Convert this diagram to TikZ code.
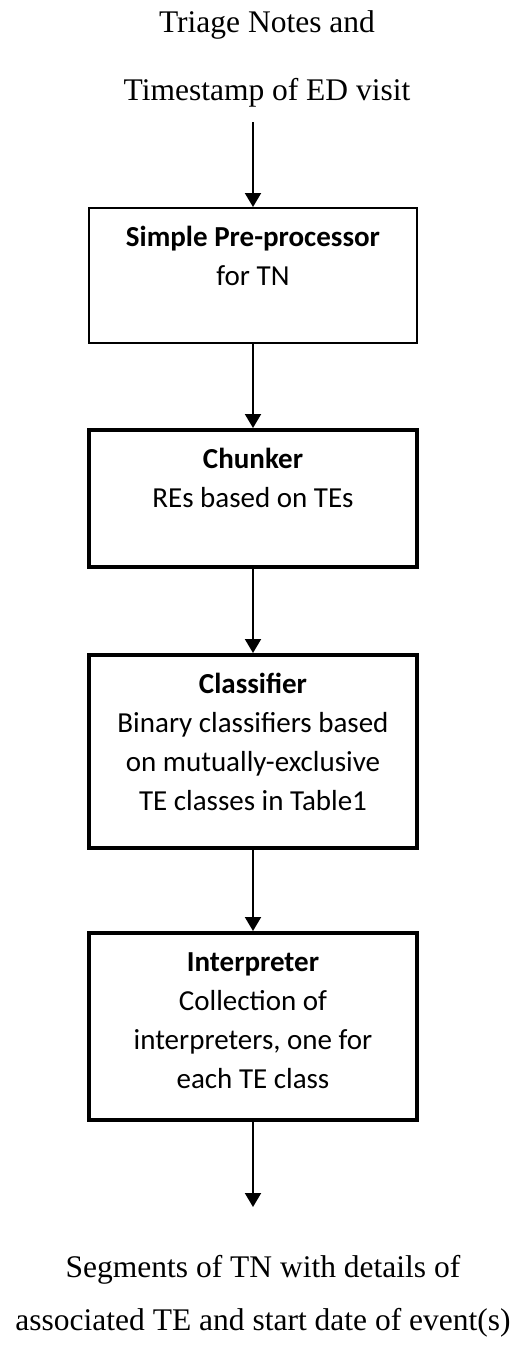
\documentclass[tikz,border=0pt]{standalone}
\usepackage{fontspec}
\setmainfont{Liberation Serif}
\newfontfamily\boxfont{Carlito}
\usetikzlibrary{arrows.meta}

% box contents: bold title, then plain lines, fixed height
\newcommand{\stagetext}[3]{\parbox[c][#3][t]{328pt}{\centering\rule{0pt}{38pt}\textbf{#1}\\#2}}

\tikzset{
  stagebox/.style={draw, rectangle, inner sep=0pt, line width=4pt,
    font=\boxfont\fontsize{29}{39}\selectfont},
  flow/.style={-{Triangle[width=16pt,length=14pt]}, line width=2pt},
  plain/.style={align=center, inner sep=0pt}
}

\begin{document}
\begin{tikzpicture}[x=1pt,y=-1pt]
    \useasboundingbox (0,0) rectangle (522,1349);
    % Entrada
    \node[plain, anchor=base, font=\fontsize{31.5}{68}\selectfont] (input) at (267,100)
        {Triage Notes and\\Timestamp of ED visit};
    \coordinate (start) at (253,122);
    % Etapas
    \node[stagebox, line width=2pt] (pre) at (253,275.5)
        {\stagetext{Simple Pre-processor}{for TN}{135pt}};
    \node[stagebox] (chunk) at (253,498.5)
        {\stagetext{Chunker}{REs based on TEs}{137pt}};
    \node[stagebox] (classif) at (253,751.5)
        {\stagetext{Classifier}{Binary classifiers based\\on mutually-exclusive\\TE classes in Table1}{193pt}};
    \node[stagebox] (interp) at (253,1026.5)
        {\stagetext{Interpreter}{Collection of\\interpreters, one for\\each TE class}{187pt}};
    % Salida
    \coordinate (end) at (253,1207);
    \node[plain, anchor=base, font=\fontsize{31.5}{53}\selectfont] (output) at (263,1330)
        {Segments of TN with details of\\associated TE and start date of event(s)};
    % Flechas
    \draw[flow] (start) -- (pre.north);
    \draw[flow] (pre.south) -- (chunk.north);
    \draw[flow] (chunk.south) -- (classif.north);
    \draw[flow] (classif.south) -- (interp.north);
    \draw[flow] (interp.south) -- (end);
\end{tikzpicture}
\end{document}
